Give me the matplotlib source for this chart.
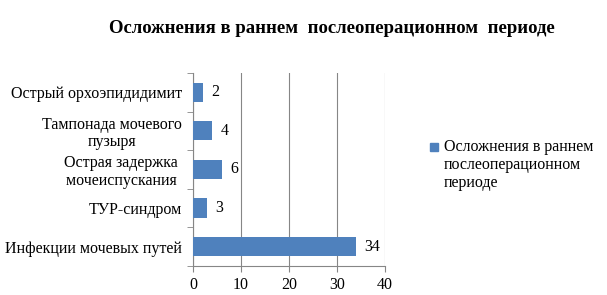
import matplotlib

matplotlib.use("Agg")
import matplotlib.pyplot as plt
from matplotlib.patches import Rectangle

plt.rcParams["font.family"] = ["Liberation Serif", "DejaVu Serif"]

categories = [
    "Инфекции мочевых путей",
    "ТУР-синдром",
    "Острая задержка \nмочеиспускания ",
    "Тампонада мочевого\nпузыря",
    "Острый орхоэпидидимит",
]
values = [34, 3, 6, 4, 2]
series_name = "Осложнения в раннем\nпослеоперационном\nпериоде"
title = "Осложнения в раннем  послеоперационном  периоде"

BAR = "#4F81BD"
GRID = "#868686"
FS = 11.5

fig = plt.figure(figsize=(6.07, 2.95), dpi=100)
ax = fig.add_axes([0.318, 0.098, 0.316, 0.655])

pos = list(range(len(categories)))
ax.barh(pos, values, height=0.5, color=BAR, zorder=3)
for p, v in zip(pos, values):
    ax.annotate(str(v), (v, p), xytext=(6, 0), textcoords="offset points",
                va="center", ha="left", fontsize=FS)

ax.set_xlim(0, 40)
ax.set_xticks([0, 10, 20, 30, 40])
ax.set_ylim(-0.5, len(categories) - 0.5)
ax.set_yticks(pos)
ax.set_yticklabels(categories, multialignment="center", linespacing=1.1)
ax.set_yticks([p - 0.5 for p in pos] + [len(pos) - 0.5], minor=True)
ax.tick_params(axis="y", which="major", length=0, pad=8, labelsize=FS)
ax.tick_params(axis="y", which="minor", length=4, color=GRID)
ax.tick_params(axis="x", length=4, color=GRID, labelsize=FS)

ax.grid(axis="x", color=GRID, linewidth=0.8, zorder=0)
for s in ["top", "right"]:
    ax.spines[s].set_visible(False)
for s in ["left", "bottom"]:
    ax.spines[s].set_color(GRID)
    ax.spines[s].set_linewidth(0.8)

fig.text(0.546, 0.905, title, ha="center", va="center", fontsize=13.5, fontweight="bold")

# legend: square marker next to first line of series name
fig.patches.append(Rectangle((430 / 607, 1 - 151 / 295), 8 / 607, 8 / 295,
                             transform=fig.transFigure, color=BAR))
fig.text(444 / 607, 1 - 139 / 295, series_name, ha="left", va="top",
         fontsize=FS, linespacing=1.15)

fig.savefig("out.png", dpi=100)
